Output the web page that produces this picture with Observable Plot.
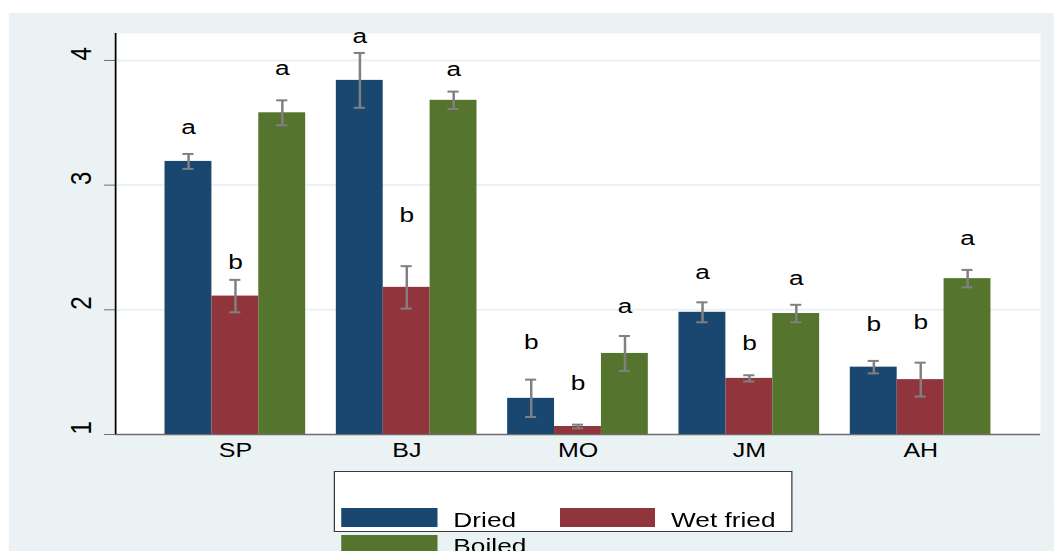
<!DOCTYPE html>
<html>
<head>
<meta charset="utf-8">
<script src="https://cdn.jsdelivr.net/npm/d3@7"></script>
<script src="https://cdn.jsdelivr.net/npm/@observablehq/plot@0.6"></script>
<style>
  html, body { margin: 0; padding: 0; background: #ffffff; overflow: hidden; }
  #wrap { position: absolute; left: 0; top: 0; width: 843.2px; height: 551px; transform: scaleX(1.25); transform-origin: 0 0; font-family: "Liberation Sans", Arial, sans-serif; }
  #bg { position: absolute; left: 7.2px; top: 13px; width: 836px; height: 538px; background: #eaf2f3; }
  .layer { position: absolute; left: 0; top: 0; }
  #legendBox { position: absolute; left: 267.2px; top: 470.7px; width: 364.6px; height: 59.3px; background: #ffffff; border: 1px solid #3a3a3a; }
  .sw { position: absolute; width: 76.5px; height: 19px; }
  .lt { position: absolute; font-size: 21px; line-height: 21px; color: #000; white-space: nowrap; }
</style>
</head>
<body>
<div id="wrap">
  <div id="bg"></div>
  <div id="plotA" class="layer"></div>
  <div id="plotB" class="layer"></div>
  <div id="legend"></div>
</div>
<script>
// ---- data ----
const categories = ["SP", "BJ", "MO", "JM", "AH"];
const seriesNames = ["Dried", "Wet fried", "Boiled"];
const seriesColors = ["#1a476f", "#90353b", "#55752f"];

const driedMean  = [3.19, 3.84, 1.29, 1.98, 1.54];
const wetMean    = [2.11, 2.18, 1.064, 1.45, 1.44];
const boiledMean = [3.58, 3.68, 1.65, 1.97, 2.25];

const driedErr  = [0.06, 0.22, 0.15, 0.08, 0.05];
const wetErr    = [0.13, 0.17, 0.015, 0.025, 0.136];
const boiledErr = [0.10, 0.07, 0.14, 0.07, 0.07];

const driedLetter  = ["a", "a", "b", "a", "b"];
const wetLetter    = ["b", "b", "b", "b", "b"];
const boiledLetter = ["a", "a", "a", "a", "a"];

const driedLetterY  = [3.46, 4.19, 1.74, 2.30, 1.88];
const wetLetterY    = [2.38, 2.76, 1.41, 1.73, 1.90];
const boiledLetterY = [3.94, 3.93, 2.03, 2.25, 2.57];

const yTicks = [1, 2, 3, 4];
const yGrid = [2, 3, 4];
const yDomain = [1, 4.216];
const yBase = 1;

// ---- build table ----
const means = [driedMean, wetMean, boiledMean];
const errs = [driedErr, wetErr, boiledErr];
const letters = [driedLetter, wetLetter, boiledLetter];
const letterYs = [driedLetterY, wetLetterY, boiledLetterY];
const rows = [];
categories.forEach((c, i) => {
  seriesNames.forEach((s, j) => {
    rows.push({
      cat: c, series: s, value: means[j][i],
      lo: means[j][i] - errs[j][i], hi: means[j][i] + errs[j][i],
      letter: letters[j][i], letterY: letterYs[j][i]
    });
  });
});

const W = 843.2, H = 460;
const margins = { marginLeft: 92, marginRight: 11.2, marginTop: 33, marginBottom: 26 };
const font = "'Liberation Sans', Arial, sans-serif";

// ---- background plot: panel, grid, axes ----
const plotA = Plot.plot({
  width: W, height: H, ...margins,
  style: { background: "transparent", fontFamily: font, color: "#6e6e6e", overflow: "visible" },
  x: { domain: [0, 1], axis: null },
  y: { domain: yDomain, ticks: yTicks, tickSize: 8.8, tickFormat: () => "", label: null },
  marks: [
    Plot.frame({ fill: "white", stroke: "none" }),
    Plot.ruleY(yGrid, { stroke: "#eaf2f3", strokeWidth: 2 }),
    Plot.ruleY([yBase], { stroke: "#6e6e6e", strokeWidth: 1.5 }),
    Plot.ruleX([0], { stroke: "#000000", strokeWidth: 1.4 }),
    Plot.text(yTicks, { y: d => d, text: d => String(d), frameAnchor: "left", dx: -27, rotate: -90, fontSize: 24, fill: "black" })
  ]
});
document.getElementById("plotA").appendChild(plotA);

// ---- bars plot ----
const plotB = Plot.plot({
  width: W, height: H, ...margins,
  style: { background: "transparent", fontFamily: font, fontSize: "20px", color: "black", overflow: "visible" },
  fx: { domain: categories, round: false, paddingInner: 0.179, paddingOuter: 0.289, axis: "bottom", tickSize: 0, tickPadding: 8, label: null },
  x: { domain: seriesNames, round: false, padding: 0, axis: null },
  y: { domain: yDomain, axis: null },
  color: { domain: seriesNames, range: seriesColors },
  marks: [
    Plot.barY(rows, { fx: "cat", x: "series", y1: yBase, y2: "value", fill: "series" }),
    Plot.ruleX(rows, { fx: "cat", x: "series", y1: "lo", y2: "hi", stroke: "#808080", strokeWidth: 2 }),
    Plot.tickY(rows, { fx: "cat", x: "series", y: "lo", stroke: "#808080", strokeWidth: 2, insetLeft: 14.3, insetRight: 14.3 }),
    Plot.tickY(rows, { fx: "cat", x: "series", y: "hi", stroke: "#808080", strokeWidth: 2, insetLeft: 14.3, insetRight: 14.3 }),
    Plot.text(rows, { fx: "cat", x: "series", y: "letterY", text: "letter", fontSize: 21, fill: "black" })
  ]
});
document.getElementById("plotB").appendChild(plotB);

// ---- legend (HTML) ----
const legend = document.getElementById("legend");
const box = document.createElement("div");
box.id = "legendBox";
legend.appendChild(box);
const legendPos = [
  { swLeft: 273.4, swTop: 508.3, txLeft: 362.7, txTop: 508.9 },
  { swLeft: 447.5, swTop: 508.3, txLeft: 536.8, txTop: 508.9 },
  { swLeft: 273.4, swTop: 535.0, txLeft: 362.7, txTop: 535.4 }
];
seriesNames.forEach((s, j) => {
  const p = legendPos[j];
  const sw = document.createElement("div");
  sw.className = "sw";
  sw.style.left = p.swLeft + "px";
  sw.style.top = p.swTop + "px";
  sw.style.background = seriesColors[j];
  legend.appendChild(sw);
  const tx = document.createElement("div");
  tx.className = "lt";
  tx.style.left = p.txLeft + "px";
  tx.style.top = p.txTop + "px";
  tx.textContent = s;
  legend.appendChild(tx);
});
</script>
</body>
</html>
